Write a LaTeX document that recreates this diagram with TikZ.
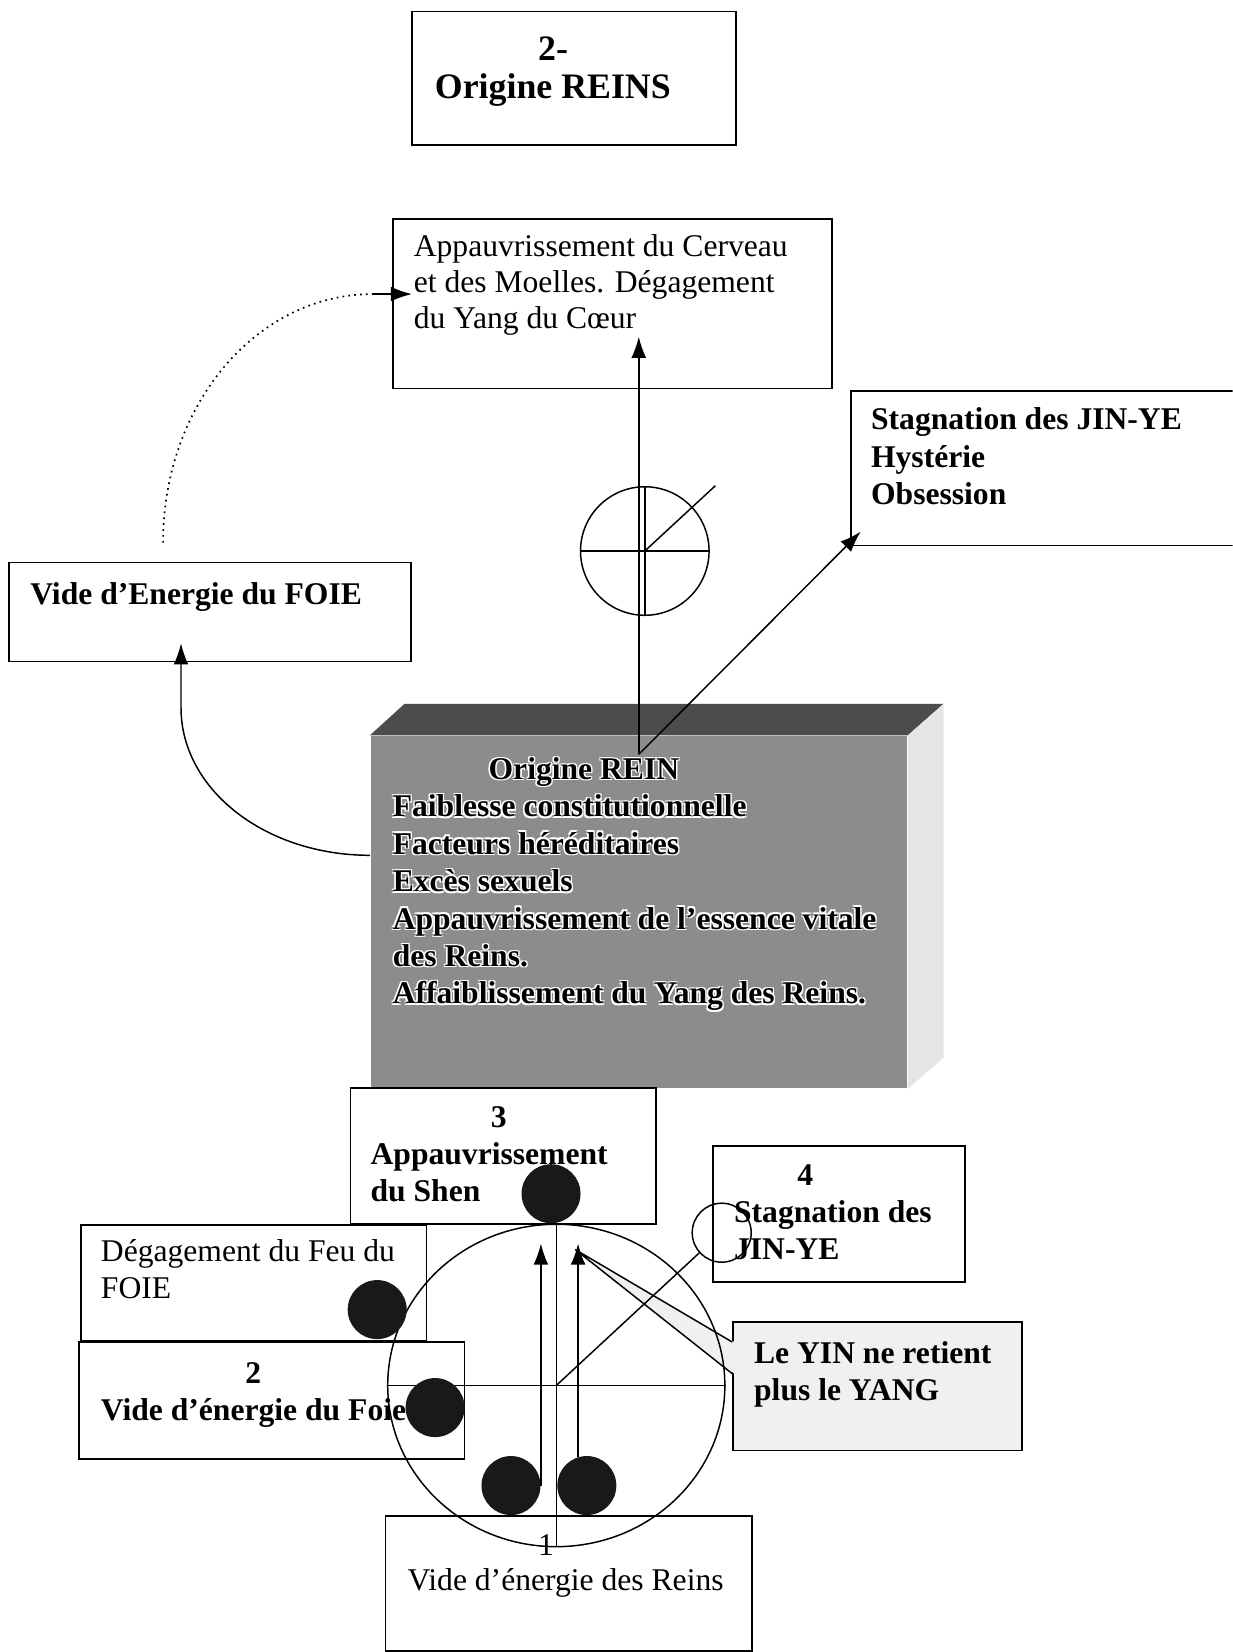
\documentclass[tikz,border=0pt]{standalone}
\usepackage{fontspec}
\setmainfont{Liberation Serif}
\usetikzlibrary{arrows.meta,shapes.geometric}

% boite : largeur, hauteur, retrait, premiere ligne de base, texte
\newcommand{\cadre}[5]{\begin{minipage}[t][#2][t]{#1}\raggedright\leftskip=#3\relax
  \rule{0pt}{#4}#5\end{minipage}}
\newcommand{\relief}[1]{\leavevmode
  \rlap{\textcolor{white}{\kern-0.7pt\raisebox{-0.7pt}{#1}}}%
  \rlap{\textcolor{white}{\kern0.6pt\raisebox{0.6pt}{#1}}}%
  \rlap{\textcolor{white}{\kern-0.7pt\raisebox{0.6pt}{#1}}}%
  \rlap{\textcolor{white}{\kern0.6pt\raisebox{-0.7pt}{#1}}}#1}

\begin{document}
\begin{tikzpicture}[x=0.5pt,y=-0.5pt,>={Latex[length=10pt,width=7pt]},
  boite/.style={draw,line width=0.8pt,inner sep=0pt,anchor=north west},
  norm/.style={font=\fontsize{15}{17.5}\selectfont},
  gras/.style={font=\fontsize{15}{17.75}\selectfont\bfseries},
  point/.style={circle,fill=black!90,inner sep=0pt,minimum size=28pt},
  trait/.style={line width=0.7pt}]
		\useasboundingbox (0,0) rectangle (1170,1568);
		\clip (0,0) rectangle (1170,1568);
		\fill[white] (0,0) rectangle (1170,1568);
		%titre
		\node[boite,font=\fontsize{17}{18}\selectfont\bfseries] (titre) at (390,10)
		  {\cadre{154pt}{63.5pt}{11pt}{23.5pt}{\hspace*{49pt}2-\\Origine REINS}};
		%haut
		\node[boite,font=\fontsize{15}{17}\selectfont] (cerveau) at (372,207)
		  {\cadre{208.5pt}{80.5pt}{10pt}{18pt}{Appauvrissement du Cerveau\\et des Moelles. Dégagement\\du Yang du Cœur}};
		\node[boite,gras] (stagsup) at (807,370)
		  {\cadre{196.5pt}{73.5pt}{9.5pt}{18.5pt}{Stagnation des JIN-YE\\Hystérie\\Obsession}};
		\node[boite,gras] (foie) at (8,533)
		  {\cadre{190.5pt}{47pt}{10pt}{20pt}{Vide d’Energie du FOIE}};
		\node[circle,draw,trait,minimum size=61pt,inner sep=0pt] (symbole) at (612,523) {};
		\draw[trait] (symbole.west) -- (symbole.east);
		\draw[trait] (symbole.north) -- (symbole.south);
		\draw[trait] (symbole.center) -- ++(67,-62);
		%bloc origine
		\node[boite,draw=none,fill=black!45,gras] (origine) at (351,698)
		  {\cadre{254.5pt}{167pt}{10.5pt}{20.5pt}{\hspace*{45.5pt}\relief{Origine REIN}\\
		  \relief{Faiblesse constitutionnelle}\\
		  \relief{Facteurs héréditaires}\\
		  \relief{Excès sexuels}\\
		  \relief{Appauvrissement de l’essence vitale}\\
		  \relief{des Reins.}\\
		  \relief{Affaiblissement du Yang des Reins.}}};
		\fill[black!70] (origine.north west) -- ++(33,-30) -- ([xshift=17pt,yshift=15pt]origine.north east) -- (origine.north east) -- cycle;
		\fill[black!10] (origine.north east) -- ++(34,-30) -- ([xshift=17pt,yshift=15pt]origine.south east) -- (origine.south east) -- cycle;
		\draw[trait,->] ([yshift=-9pt]origine.north) -- ([yshift=25pt]origine.north |- cerveau.south);
		\draw[trait,->] ([yshift=-9pt]origine.north) -- ([xshift=5pt,yshift=7pt]stagsup.south west);
		\draw[trait,->] ([yshift=27pt]origine.west) .. controls +(-99,0) and +(0,78) .. ([xshift=-13.75pt,yshift=-21.5pt]foie.south) -- ([xshift=-13.75pt,yshift=9pt]foie.south);
		\draw[line width=0.8pt,dotted] ([xshift=-22.25pt,yshift=9pt]foie.north) .. controls +(0,-131) and +(-110.5,0) .. ([xshift=-9pt,yshift=4.6pt]cerveau.west);
		\draw[trait,->] ([xshift=-9pt,yshift=4.6pt]cerveau.west) -- ([xshift=9.5pt,yshift=4.6pt]cerveau.west);
		%3
		\node[boite,gras] (shen) at (332,1032)
		  {\cadre{145pt}{64.5pt}{9.5pt}{18.5pt}{\hspace*{57pt}3\\Appauvrissement\\du Shen}};
		%4
		\node[boite,gras] (stag) at (676,1087)
		  {\cadre{119.5pt}{64.5pt}{10pt}{18.5pt}{\hspace*{30pt}4\\Stagnation des\\JIN-YE}};
		\node[boite,norm] (feu) at (76,1162)
		  {\cadre{164pt}{55pt}{9.5pt}{17.5pt}{Dégagement du Feu du\\FOIE}};
		%2
		\node[boite,font=\fontsize{15}{17.5}\selectfont\bfseries] (foiedeux) at (74,1273)
		  {\cadre{183pt}{55.5pt}{10.5pt}{19.5pt}{\hspace*{68.5pt}2\\Vide d’énergie du Foie}};
		%1
		\node[boite,font=\fontsize{15}{16.5}\selectfont] (reins) at (365,1438)
		  {\cadre{174pt}{64pt}{10.5pt}{19pt}{\hspace*{62pt}1\\Vide d’énergie des Reins}};
		%bulle
		\coordinate (pointe) at (546,1186);
		\node[boite,fill=black!6,font=\fontsize{15}{17.5}\selectfont\bfseries] (yin) at (695,1254)
		  {\cadre{137pt}{61pt}{10pt}{19.5pt}{Le YIN ne retient\\plus le YANG}};
		\fill[black!6] (pointe) -- ([xshift=1pt,yshift=21pt]yin.west) -- ([xshift=1pt,yshift=6pt]yin.west) -- cycle;
		\draw[trait] ([yshift=21pt]yin.west) -- (pointe) -- ([yshift=6pt]yin.west);
		%cercle
		\node[ellipse,draw,trait,minimum width=160pt,minimum height=153pt,inner sep=0pt] (cercle) at (528,1315) {};
		\draw[trait] (cercle.west) -- (cercle.east);
		\draw[trait] (cercle.north) -- (cercle.south);
		\node[circle,draw,trait,minimum size=28pt,inner sep=0pt] (petit) at (685,1170) {};
		\draw[trait] (cercle.center) -- (petit.222);
		%points
		\node[point] (ptshen) at (523,1133) {};
		\node[point] (ptfeu) at (358,1243) {};
		\node[point] (ptfoie) at (413,1336) {};
		\node[point] (ptg) at (485,1410) {};
		\node[point] (ptd) at (557,1410) {};
		\coordinate (haut) at ([yshift=-9.5pt]cercle.north);
		\draw[trait,->] (ptg.east) -- (ptg.east |- haut);
		\draw[trait,->] (ptd.107) -- (ptd.107 |- haut);
\end{tikzpicture}
\end{document}
